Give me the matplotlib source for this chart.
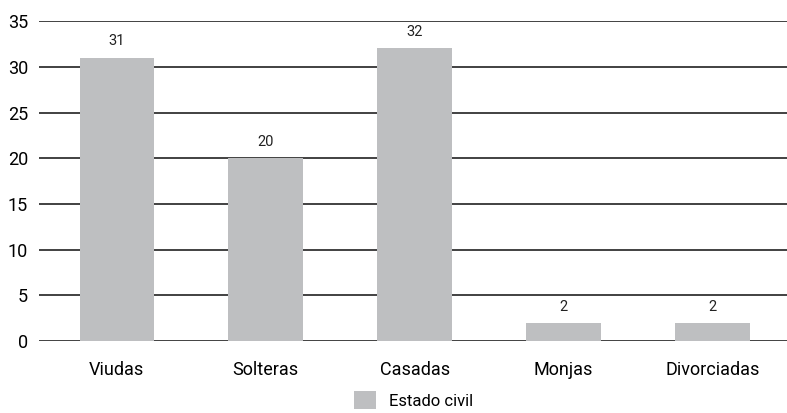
import matplotlib
matplotlib.use("Agg")
import matplotlib.pyplot as plt
import numpy as np

# Data
categories = ["Viudas", "Solteras", "Casadas", "Monjas", "Divorciadas"]
values = [31, 20, 32, 2, 2]
series_name = "Estado civil"
y_ticks = [0, 5, 10, 15, 20, 25, 30, 35]

plt.rcParams['font.family'] = ['Liberation Sans Narrow', 'Roboto', 'DejaVu Sans']

fig = plt.figure(figsize=(7.87, 4.13), dpi=100)
ax = fig.add_axes([0.05, 0.174, 0.95, 0.775])

x = np.arange(len(categories))
bar_color = "#bebfc1"
ax.bar(x, values, width=0.5, color=bar_color, zorder=3, label=series_name)

for xi, v in zip(x, values):
    ax.text(xi, v + 1.0, str(v), ha="center", va="bottom", fontsize=10.5, color="#222222")

ax.set_ylim(0, 35)
ax.set_xlim(-0.52, len(categories) - 0.5)
ax.set_yticks(y_ticks)
ax.set_xticks(x)
ax.set_xticklabels(categories, fontsize=13)
ax.tick_params(axis="y", labelsize=13, length=0, pad=8)
ax.tick_params(axis="x", length=0, pad=14)
ax.grid(axis="y", color="#333333", linewidth=1.3, zorder=0)
for s in ax.spines.values():
    s.set_visible(False)

fig.legend(loc="center", bbox_to_anchor=(0.526, 0.031), frameon=False,
           fontsize=12, handlelength=1.3, handleheight=1.3, borderpad=0.2)

fig.savefig("out.png", dpi=100)
